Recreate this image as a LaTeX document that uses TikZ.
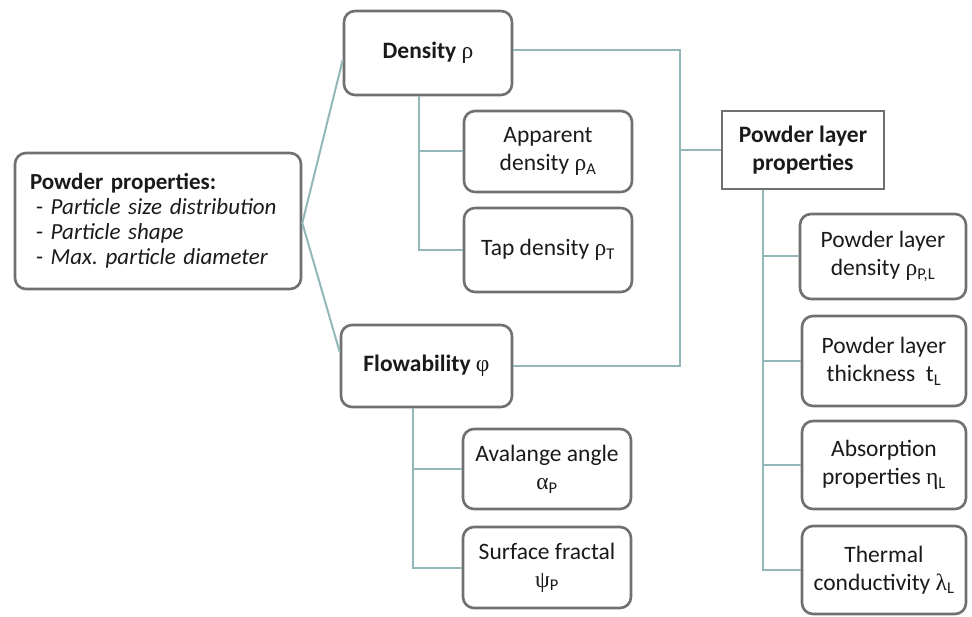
\documentclass[tikz,border=0pt]{standalone}
\usepackage{fontspec}
\setmainfont{Carlito}
\newfontfamily\grk{Liberation Serif}
\definecolor{boxgray}{HTML}{707070}
\definecolor{linkteal}{HTML}{93B7B9}
\definecolor{txt}{HTML}{1A1A1A}
\newcommand{\gr}[1]{{\grk #1}}
\begin{document}
\frenchspacing
\begin{tikzpicture}[x=1pt,y=-1pt,
  rbox/.style={draw=boxgray, line width=2.6pt, rounded corners=11pt, fill=white,
    align=center, text=txt, font=\fontsize{23.5}{28}\selectfont, inner sep=3pt},
  sbox/.style={rbox, rounded corners=0pt},
  link/.style={draw=linkteal, line width=2pt}]
\useasboundingbox (0,0) rectangle (972,617);

\node[rbox, minimum width=286pt, minimum height=136pt, text width=256pt, align=left,
  inner sep=3pt, font=\fontsize{23}{25}\selectfont] (pp) at (158,221)
  {\textbf{Powder properties:}\\
   \hspace*{6pt}- \textit{Particle size distribution}\\
   \hspace*{6pt}- \textit{Particle shape}\\
   \hspace*{6pt}- \textit{Max. particle diameter}};

\node[rbox, minimum width=168pt, minimum height=84pt] (dens) at (428,53) {\textbf{Density} \gr{ρ}};
\node[rbox, minimum width=168pt, minimum height=81pt] (app) at (548,151.5) {Apparent\\density \gr{ρ}\textsubscript{A}};
\node[rbox, minimum width=168pt, minimum height=84pt] (tap) at (548,250) {Tap density \gr{ρ}\textsubscript{T}};

\node[rbox, minimum width=171pt, minimum height=82pt] (flow) at (426.5,366) {\textbf{Flowability} \gr{φ}};
\node[rbox, minimum width=168pt, minimum height=80pt] (aval) at (547,469) {Avalange angle\\\gr{α}\textsubscript{P}};
\node[rbox, minimum width=168pt, minimum height=81pt] (surf) at (547,567.5) {Surface fractal\\\gr{ψ}\textsubscript{P}};

\node[sbox, minimum width=162pt, minimum height=78pt] (plp) at (803,150) {\textbf{Powder layer}\\\textbf{properties}};
\node[rbox, minimum width=166pt, minimum height=85pt] (pld) at (883,256.5) {Powder layer\\density \gr{ρ}\textsubscript{P,L}};
\node[rbox, minimum width=164pt, minimum height=90pt] (plt) at (884,361) {Powder layer\\thickness~~t\textsubscript{L}};
\node[rbox, minimum width=164pt, minimum height=88pt] (abs) at (884,465) {Absorption\\properties \gr{η}\textsubscript{L}};
\node[rbox, minimum width=164pt, minimum height=88pt] (therm) at (884,570) {Thermal\\conductivity \gr{λ}\textsubscript{L}};

\coordinate (jx) at (680,0);

\draw[link] ([yshift=-2pt]pp.east) -- ([yshift=-7pt]dens.west);
\draw[link] ([yshift=-2pt]pp.east) -- ([yshift=14pt]flow.west);

\draw[link] ([xshift=-9pt]dens.south) |- (app.west);
\draw[link] ([xshift=-9pt]dens.south) |- (tap.west);

\draw[link] ([xshift=-13.5pt]flow.south) |- (aval.west);
\draw[link] ([xshift=-13.5pt]flow.south) |- (surf.west);

\draw[link] ([yshift=3pt]dens.east) -| (jx |- flow.east) -- (flow.east);
\draw[link] (jx |- plp.west) -- (plp.west);

\draw[link] ([xshift=-40pt]plp.south) |- (pld.west);
\draw[link] ([xshift=-40pt]plp.south) |- (plt.west);
\draw[link] ([xshift=-40pt]plp.south) |- (abs.west);
\draw[link] ([xshift=-40pt]plp.south) |- (therm.west);
\end{tikzpicture}
\end{document}
